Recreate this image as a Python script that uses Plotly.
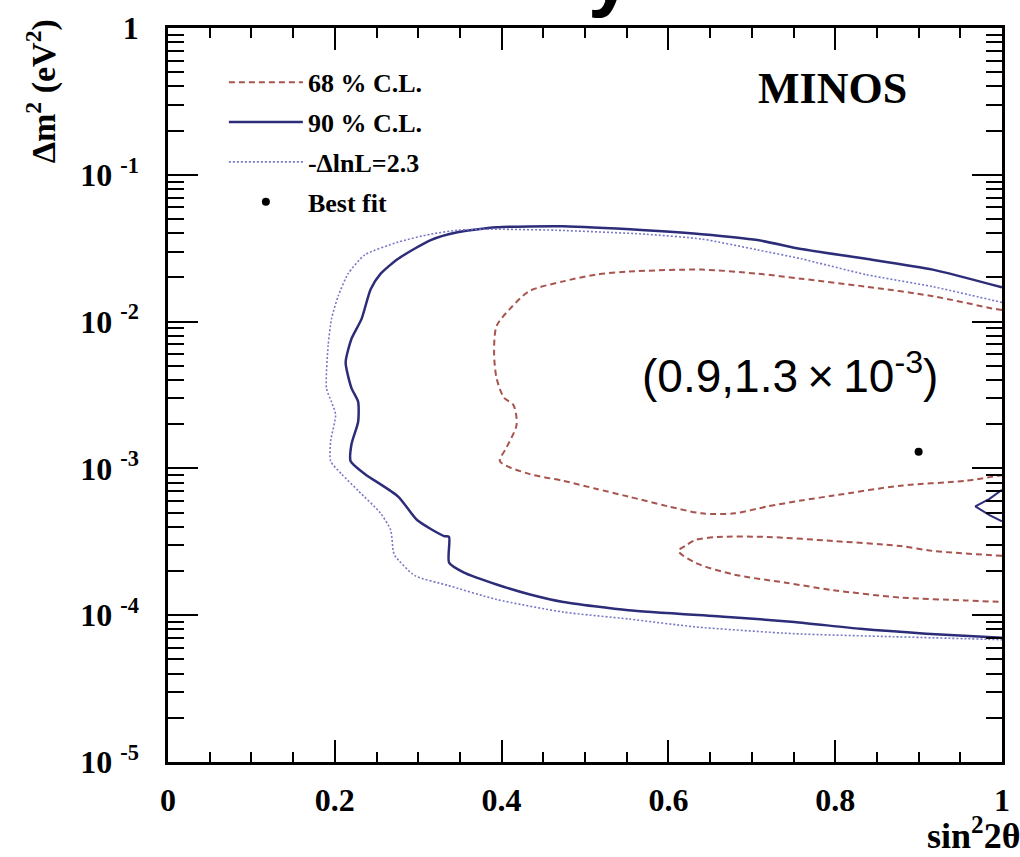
import plotly.graph_objects as go

# ---------------- data ----------------
# 90 % C.L. contour (solid)
cl90_x = [1.0, 0.917, 0.837, 0.759, 0.707, 0.640, 0.572, 0.474, 0.394, 0.347, 0.315, 0.276,
          0.255, 0.243, 0.232, 0.220, 0.213, 0.220, 0.228, 0.228, 0.220, 0.219, 0.236, 0.276,
          0.299, 0.331, 0.337, 0.337, 0.355, 0.394, 0.433, 0.474, 0.552, 0.671, 0.751, 0.830,
          0.909, 1.0]
cl90_y = [0.0171, 0.0226, 0.0268, 0.0312, 0.0359, 0.0394, 0.0419, 0.0446, 0.0439, 0.0406,
          0.0359, 0.0268, 0.0212, 0.0166, 0.0104, 0.00764, 0.00527, 0.00352, 0.00284, 0.00208,
          0.00146, 0.00112, 0.000917, 0.000643, 0.000443, 0.000346, 0.000341, 0.000228,
          0.000195, 0.000162, 0.000139, 0.000123, 0.000108, 0.0000973, 0.0000900, 0.0000807,
          0.0000748, 0.0000703]
# small 90 % island at the right edge
cl90_isl_x = [1.0, 0.985, 0.968, 0.985, 1.0]
cl90_isl_y = [0.000716, 0.000620, 0.000551, 0.000480, 0.000436]

# -DlnL = 2.3 contour (dotted)
lnl_x = [1.0, 0.917, 0.837, 0.759, 0.707, 0.640, 0.572, 0.466, 0.379, 0.347, 0.315, 0.276,
         0.236, 0.216, 0.204, 0.196, 0.192, 0.190, 0.196, 0.201, 0.195, 0.195, 0.208, 0.228,
         0.255, 0.267, 0.270, 0.272, 0.296, 0.335, 0.394, 0.474, 0.552, 0.632, 0.751, 0.869,
         1.0]
lnl_y = [0.0135, 0.0173, 0.0209, 0.0268, 0.0308, 0.0365, 0.0394, 0.0419, 0.0426, 0.0419,
         0.0394, 0.0348, 0.0285, 0.0212, 0.0149, 0.0104, 0.00686, 0.00352, 0.00284, 0.00232,
         0.00153, 0.00112, 0.000917, 0.000705, 0.000494, 0.000380, 0.000274, 0.000254,
         0.000186, 0.000160, 0.000128, 0.000105, 0.0000943, 0.0000833, 0.0000748, 0.0000714,
         0.0000681]

# 68 % C.L. contour (dashed), main region
cl68_x = [1.0, 0.988, 0.917, 0.837, 0.759, 0.707, 0.640, 0.552, 0.513, 0.474, 0.433, 0.410,
          0.394, 0.391, 0.394, 0.403, 0.414, 0.418, 0.406, 0.398, 0.433, 0.474, 0.513, 0.552,
          0.600, 0.640, 0.679, 0.719, 0.759, 0.798, 0.878, 0.956, 1.0]
cl68_y = [0.0120, 0.0123, 0.0149, 0.0173, 0.0196, 0.0212, 0.0226, 0.0219, 0.0209, 0.0188,
          0.0161, 0.0122, 0.00934, 0.00615, 0.00411, 0.00302, 0.00271, 0.00199, 0.00139,
          0.00112, 0.000917, 0.000823, 0.000727, 0.000643, 0.000551, 0.000494, 0.000494,
          0.000551, 0.000604, 0.000653, 0.000762, 0.000823, 0.000900]
# 68 % C.L. contour, lower island
cl68_isl_x = [1.0, 0.917, 0.878, 0.798, 0.719, 0.659, 0.632, 0.620, 0.612, 0.632, 0.679,
              0.739, 0.798, 0.878, 0.956, 1.0]
cl68_isl_y = [0.000254, 0.000274, 0.000296, 0.000320, 0.000341, 0.000341, 0.000325, 0.000296,
              0.000274, 0.000228, 0.000189, 0.000167, 0.000148, 0.000132, 0.000126, 0.000123]

# best fit
best_x = [0.9]
best_y = [1.3e-3]

legend_names = ["68 % C.L.", "90 % C.L.", "-\u0394lnL=2.3", "Best fit"]
x_tickvals = [0, 0.2, 0.4, 0.6, 0.8, 1]
x_ticktext = ["0", "0.2", "0.4", "0.6", "0.8", "1"]
y_exponents = [-5, -4, -3, -2, -1, 0]

# ---------------- styles ----------------
RED = "#a8544e"
NAVY = "#2c2c78"
LIGHT = "#7878c6"
SERIF = "Liberation Serif, Times New Roman, serif"
SANS = "Liberation Sans, Arial, sans-serif"

fig = go.Figure()
fig.add_trace(go.Scatter(x=cl68_x, y=cl68_y, mode="lines", name=legend_names[0],
                         legendgroup="g1",
                         line=dict(color=RED, width=2, dash="6px,4px", shape="spline",
                                   smoothing=0.8)))
fig.add_trace(go.Scatter(x=cl68_isl_x, y=cl68_isl_y, mode="lines", showlegend=False,
                         legendgroup="g1",
                         line=dict(color=RED, width=2, dash="6px,4px", shape="spline",
                                   smoothing=0.8)))
fig.add_trace(go.Scatter(x=cl90_x, y=cl90_y, mode="lines", name=legend_names[1],
                         legendgroup="g2",
                         line=dict(color=NAVY, width=2.5, shape="spline", smoothing=0.6)))
fig.add_trace(go.Scatter(x=cl90_isl_x, y=cl90_isl_y, mode="lines", showlegend=False,
                         legendgroup="g2", line=dict(color=NAVY, width=2)))
fig.add_trace(go.Scatter(x=lnl_x, y=lnl_y, mode="lines", name=legend_names[2],
                         legendgroup="g3",
                         line=dict(color=LIGHT, width=1.6, dash="2px,2px", shape="spline",
                                   smoothing=0.6)))
fig.add_trace(go.Scatter(x=best_x, y=best_y, mode="markers", name=legend_names[3],
                         legendgroup="g4", marker=dict(color="black", size=8)))

y_tickvals = [10.0 ** e for e in y_exponents]
y_ticktext = ["1" if e == 0 else "10\u00a0<sup>%d</sup>" % e for e in y_exponents]
y_minor = [m * 10.0 ** e for e in range(-5, 0) for m in range(2, 10)]

tickfont = dict(family=SERIF, size=32, color="black", weight="bold")

fig.update_xaxes(range=[0, 1], showline=True, linecolor="black", linewidth=2.5,
                 mirror="ticks", ticks="inside", ticklen=22, tickwidth=2, tickcolor="black",
                 tickvals=x_tickvals, ticktext=x_ticktext, tickfont=tickfont,
                 ticklabelstandoff=8,
                 minor=dict(dtick=0.05, tick0=0, ticks="inside", ticklen=10, tickwidth=2,
                            tickcolor="black", showgrid=False),
                 showgrid=False, zeroline=False)
fig.update_yaxes(type="log", range=[-5, 0], showline=True, linecolor="black", linewidth=2.5,
                 mirror="ticks", ticks="inside", ticklen=30, tickwidth=2, tickcolor="black",
                 tickvals=y_tickvals, ticktext=y_ticktext, tickfont=tickfont,
                 ticklabelstandoff=20,
                 minor=dict(tickvals=y_minor, ticks="inside", ticklen=16, tickwidth=2,
                            tickcolor="black", showgrid=False),
                 showgrid=False, zeroline=False)

fig.update_layout(
    width=1020, height=857,
    margin=dict(l=168, r=10, t=18, b=95),
    plot_bgcolor="white", paper_bgcolor="white",
    showlegend=True,
    legend=dict(x=0.067, y=0.958, xanchor="left", yanchor="top", bgcolor="rgba(0,0,0,0)",
                font=dict(family=SERIF, size=26, color="black", weight="bold"),
                itemwidth=74, tracegroupgap=3),
    annotations=[
        dict(text="MINOS", xref="paper", yref="paper", x=0.797, y=0.918,
             xanchor="center", yanchor="middle", showarrow=False,
             font=dict(family=SERIF, size=44, color="black", weight="bold")),
        dict(text="(0.9,1.3\u2009\u00d7\u200910<sup>-3</sup>)", xref="x", yref="y",
             x=0.746, y=-2.35, xanchor="center", yanchor="middle", showarrow=False,
             font=dict(family=SANS, size=46, color="black")),
        dict(text="\u0394m<sup>2</sup> (eV<sup>2</sup>)", xref="paper", yref="paper",
             x=-0.152, y=0.914, xanchor="center", yanchor="middle", textangle=-90,
             showarrow=False, font=dict(family=SERIF, size=34, color="black", weight="bold")),
        dict(text="sin<sup>2</sup>2\u03b8", xref="paper", yref="paper",
             x=1.024, y=-0.097, xanchor="right", yanchor="middle", showarrow=False,
             font=dict(family=SERIF, size=36, color="black", weight="bold")),
        dict(text="y", xref="paper", yref="paper", x=0.531, y=1.0, xanchor="center",
             yanchor="bottom", yshift=8, showarrow=False,
             font=dict(family=SANS, size=80, color="black", weight="bold")),
    ],
)

fig.write_html("out.html")
